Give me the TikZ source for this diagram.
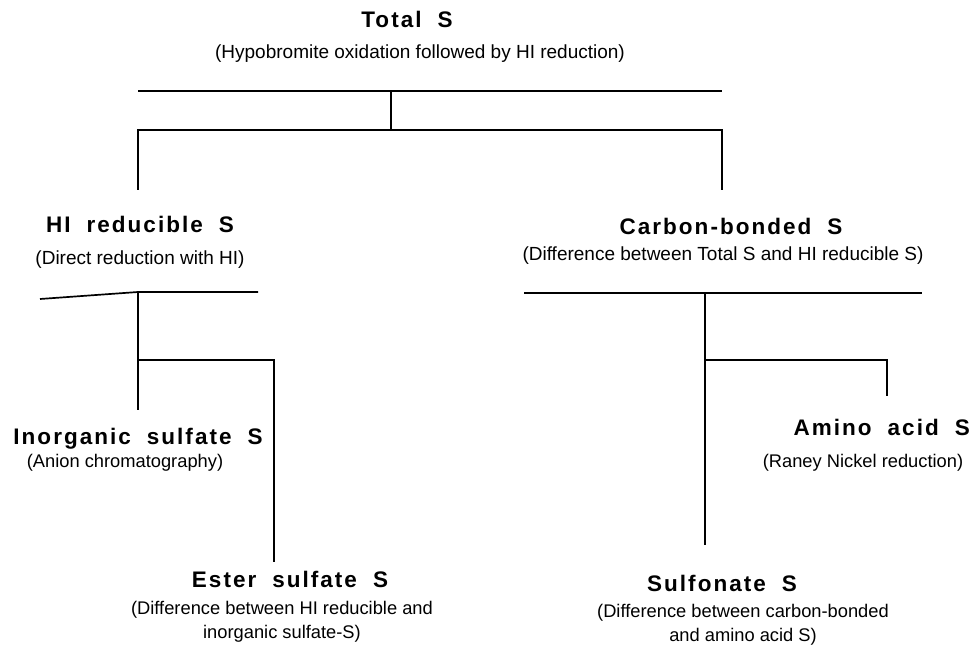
\documentclass[tikz,border=0pt]{standalone}
\usepackage{fontspec}
\setmainfont{Liberation Sans}
\newfontfamily\titlefont[LetterSpace=9]{Liberation Sans}
\newcommand\wgap{\hspace{16pt}}
\begin{document}
\begin{tikzpicture}[x=1pt,y=-1pt,
  head/.style={anchor=base,inner sep=0pt,font=\titlefont\bfseries\fontsize{22.5}{26}\selectfont},
  note/.style={anchor=base,inner sep=0pt,align=center,font=\fontsize{19}{24}\selectfont},
  lownote/.style={note,font=\fontsize{18.3}{24}\selectfont},
  bar/.style={line width=1.7pt,line cap=butt}]
\useasboundingbox (0,0) rectangle (972,647);
% texts
\node[head] (total) at (407,28) {Total\wgap S};
\node[note] (totaln) at (420,59) {(Hypobromite oxidation followed by HI reduction)};
\node[head] (hi) at (140,233) {HI\wgap reducible\wgap S};
\node[note] (hin) at (140,265) {(Direct reduction with HI)};
\node[head] (cb) at (731,235) {Carbon-bonded\wgap S};
\node[note] (cbn) at (723,261) {(Difference between Total S and HI reducible S)};
\node[head] (inorg) at (138,444) {Inorganic\wgap sulfate\wgap S};
\node[lownote] (inorgn) at (125,467) {(Anion chromatography)};
\node[head] (ester) at (290,587) {Ester\wgap sulfate\wgap S};
\node[lownote] (estern) at (282,638) {(Difference between HI reducible and\\inorganic sulfate-S)};
\node[head,anchor=base east] (amino) at (970,435) {Amino\wgap acid\wgap S};
\node[lownote] (aminon) at (863,467) {(Raney Nickel reduction)};
\node[head] (sulf) at (722,591) {Sulfonate\wgap S};
\node[lownote] (sulfn) at (743,641) {(Difference between carbon-bonded\\and amino acid S)};
% junction coordinates
\coordinate (t1l) at (138,91);  \coordinate (t1r) at (722,91);  \coordinate (t1m) at (391,91);
\coordinate (t2l) at (138,130); \coordinate (t2r) at (722,130); \coordinate (t2m) at (391,130);
\coordinate (hiend) at (138,190); \coordinate (cbend) at (722,190);
\coordinate (hl0) at (40,299); \coordinate (hlm) at (138,292); \coordinate (hlr) at (258,292);
\coordinate (hv1) at (138,360); \coordinate (hvend) at (138,410);
\coordinate (hb2) at (274,360); \coordinate (hb2end) at (274,562);
\coordinate (cl) at (524,293); \coordinate (cm) at (705,293); \coordinate (cr) at (922,293);
\coordinate (cv1) at (705,360); \coordinate (cvend) at (705,545);
\coordinate (cb2) at (887,360); \coordinate (cb2end) at (887,396);
% connectors
\draw[bar] (t1l) -- (t1r);
\draw[bar] (t1m) -- (t2m);
\draw[bar] (hiend) -- (t2l) -- (t2r) -- (cbend);
\draw[bar] (hl0) -- (hlm) -- (hlr);
\draw[bar] (hlm) -- (hvend);
\draw[bar] (hv1) -- (hb2) -- (hb2end);
\draw[bar] (cl) -- (cr);
\draw[bar] (cm) -- (cvend);
\draw[bar] (cv1) -- (cb2) -- (cb2end);
\end{tikzpicture}
\end{document}
